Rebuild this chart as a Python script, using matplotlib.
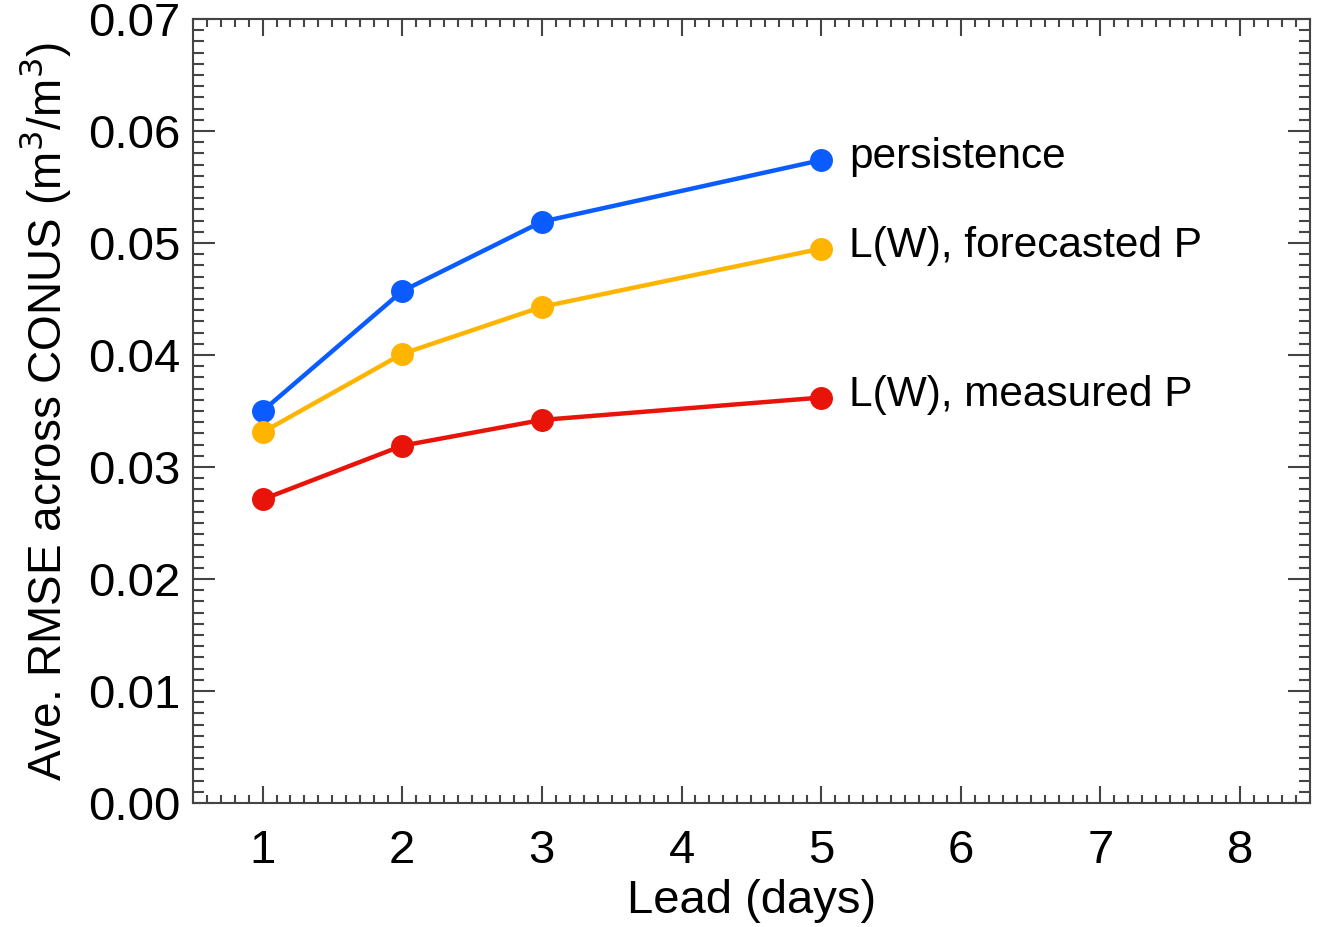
import matplotlib
matplotlib.use("Agg")
import matplotlib.pyplot as plt
from matplotlib.ticker import MultipleLocator, FormatStrFormatter

plt.rcParams['font.family'] = ['Liberation Sans', 'DejaVu Sans']

lead = [1, 2, 3, 5]
persistence = [0.0350, 0.0457, 0.0519, 0.0574]
lw_forecast = [0.0331, 0.0401, 0.0443, 0.0495]
lw_measured = [0.0271, 0.0319, 0.0342, 0.0362]
series_labels = ["persistence", "L(W), forecasted P", "L(W), measured P"]
colors = ["#0a5cff", "#ffb400", "#e8140a"]

fig = plt.figure(figsize=(13.2, 9.27), dpi=100)
ax = fig.add_axes([0.146, 0.1338, 0.8464, 0.8457])

for vals, lab, c in zip([persistence, lw_forecast, lw_measured], series_labels, colors):
    ax.plot(lead, vals, color=c, lw=3.2, marker='o', ms=15.5, zorder=3)
    ax.annotate(lab, xy=(lead[-1], vals[-1]), xytext=(20, 2), textcoords='offset points',
                va='center', ha='left', fontsize=30.5)

ax.set_xlim(0.5, 8.5)
ax.set_ylim(0.0, 0.07)
ax.xaxis.set_major_locator(MultipleLocator(1))
ax.xaxis.set_minor_locator(MultipleLocator(0.1))
ax.yaxis.set_major_locator(MultipleLocator(0.01))
ax.yaxis.set_minor_locator(MultipleLocator(0.001))
ax.yaxis.set_major_formatter(FormatStrFormatter('%.2f'))

frame_c = '#444444'
for s in ax.spines.values():
    s.set_color(frame_c)
    s.set_linewidth(1.5)
ax.tick_params(which='both', direction='in', top=True, right=True, color=frame_c, width=1.5)
ax.tick_params(axis='x', which='major', length=12, labelsize=34, pad=19)
ax.tick_params(axis='x', which='minor', length=6)
ax.tick_params(axis='y', which='major', length=16, labelsize=34, pad=9)
ax.tick_params(axis='y', which='minor', length=8)

ax.set_xlabel("Lead (days)", fontsize=34, labelpad=4)
ax.set_ylabel("Ave. RMSE across CONUS (m$^3$/m$^3$)", fontsize=33, labelpad=11)

fig.savefig("out.png", dpi=100)
